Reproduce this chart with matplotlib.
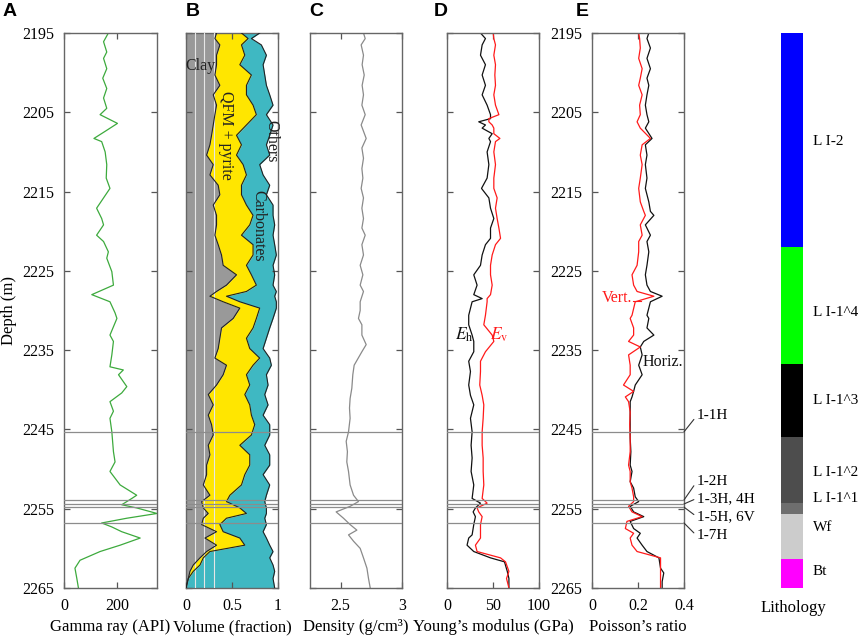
import matplotlib
matplotlib.use('Agg')
import matplotlib.pyplot as plt

plt.rcParams['font.family'] = ['Liberation Serif', 'DejaVu Serif']
plt.rcParams['mathtext.fontset'] = 'stix'

# ---------------- data ----------------
depth_ticks = [2195, 2205, 2215, 2225, 2235, 2245, 2255, 2265]

gr_depth = [2195.0, 2196.1, 2197.4, 2198.2, 2199.5, 2200.7, 2202.0, 2203.2, 2204.5, 2205.3,
            2206.4, 2207.4, 2208.3, 2208.7, 2210.0, 2211.6, 2213.3, 2214.6, 2215.8, 2217.1,
            2218.4, 2219.2, 2220.5, 2221.3, 2222.6, 2223.4, 2225.1, 2226.8, 2228.0, 2228.9,
            2230.3, 2231.0, 2233.1, 2233.9, 2235.6, 2237.1, 2237.5, 2238.1, 2239.6, 2240.4,
            2241.5, 2242.7, 2243.6, 2245.3, 2247.8, 2249.1, 2250.3, 2252.0, 2253.3, 2253.7,
            2254.5, 2254.9, 2255.6, 2256.2, 2256.8, 2257.3, 2257.9, 2258.7, 2259.6, 2260.4,
            2261.5, 2262.5, 2263.8, 2265.0]
gamma_ray = [166, 148, 160, 148, 160, 145, 160, 148, 160, 135,
             200, 154, 112, 141, 154, 160, 158, 172, 148, 122,
             141, 148, 122, 148, 166, 160, 179, 185, 104, 172,
             191, 198, 172, 185, 179, 172, 222, 204, 235, 216,
             172, 185, 172, 179, 185, 191, 172, 210, 272, 254,
             216, 272, 348, 235, 141, 179, 216, 285, 210, 135,
             60, 41, 48, 54]

min_depth = [2195.0, 2195.7, 2196.5, 2197.8, 2199.0, 2200.3, 2201.6, 2202.8, 2204.1, 2205.3,
             2206.6, 2207.9, 2209.1, 2210.4, 2211.6, 2212.9, 2214.2, 2215.4, 2216.7, 2218.0,
             2219.2, 2220.5, 2221.7, 2223.0, 2224.3, 2225.5, 2226.8, 2227.6, 2228.2, 2228.9,
             2229.7, 2231.0, 2232.2, 2233.5, 2234.8, 2236.0, 2236.9, 2238.1, 2239.4, 2240.6,
             2241.9, 2243.2, 2244.4, 2245.7, 2247.0, 2248.2, 2249.5, 2250.7, 2252.0, 2253.3,
             2254.1, 2254.9, 2255.6, 2256.2, 2257.0, 2257.9, 2258.7, 2259.6, 2260.4, 2261.2,
             2262.1, 2262.9, 2263.8, 2265.0]
clay_cum = [0.332, 0.314, 0.368, 0.332, 0.332, 0.314, 0.368, 0.296, 0.332, 0.314,
            0.296, 0.278, 0.260, 0.224, 0.296, 0.260, 0.350, 0.368, 0.296, 0.332,
            0.332, 0.314, 0.350, 0.386, 0.404, 0.549, 0.440, 0.332, 0.260, 0.404,
            0.585, 0.513, 0.386, 0.368, 0.350, 0.314, 0.440, 0.404, 0.332, 0.242,
            0.296, 0.242, 0.278, 0.296, 0.242, 0.260, 0.224, 0.224, 0.188, 0.260,
            0.170, 0.188, 0.242, 0.188, 0.170, 0.332, 0.206, 0.332, 0.224, 0.152,
            0.079, 0.043, 0.025, 0.0]
qfm_cum = [0.603, 0.675, 0.603, 0.639, 0.585, 0.711, 0.657, 0.657, 0.729, 0.765,
           0.657, 0.549, 0.603, 0.549, 0.621, 0.657, 0.603, 0.603, 0.657, 0.729,
           0.693, 0.603, 0.729, 0.729, 0.657, 0.711, 0.765, 0.657, 0.440, 0.585,
           0.801, 0.765, 0.729, 0.657, 0.693, 0.801, 0.729, 0.657, 0.693, 0.639,
           0.693, 0.711, 0.747, 0.711, 0.585, 0.693, 0.693, 0.639, 0.603, 0.477,
           0.440, 0.585, 0.657, 0.440, 0.368, 0.404, 0.585, 0.639, 0.260, 0.188,
           0.152, 0.079, 0.025, 0.0]
carb_cum = [0.801, 0.711, 0.819, 0.874, 0.838, 0.856, 0.874, 0.910, 0.946, 0.874,
            0.946, 0.910, 0.874, 0.910, 0.801, 0.838, 0.910, 0.874, 0.946, 0.946,
            0.964, 0.946, 0.964, 0.982, 0.946, 0.964, 0.946, 0.982, 0.964, 0.982,
            0.982, 0.946, 0.910, 0.874, 0.838, 0.910, 0.928, 0.874, 0.892, 0.856,
            0.892, 0.838, 0.910, 0.910, 0.856, 0.910, 0.910, 0.838, 0.910, 0.874,
            0.856, 0.874, 0.874, 0.856, 0.874, 0.838, 0.874, 0.910, 0.946, 0.910,
            0.946, 0.964, 0.946, 0.964]

den_depth = [2195.0, 2195.7, 2196.5, 2197.8, 2199.0, 2200.3, 2201.6, 2202.8, 2204.1, 2205.3,
             2206.6, 2208.3, 2209.5, 2210.8, 2212.1, 2213.3, 2214.6, 2215.8, 2217.1, 2218.4,
             2219.6, 2220.5, 2221.7, 2223.0, 2224.3, 2225.5, 2226.8, 2227.6, 2228.9, 2230.0,
             2231.0, 2231.8, 2233.1, 2234.3, 2235.2, 2236.9, 2238.1, 2239.8, 2241.1, 2242.3,
             2243.6, 2245.3, 2246.5, 2247.8, 2249.1, 2250.3, 2252.0, 2253.3, 2254.1, 2254.7,
             2255.4, 2256.2, 2257.0, 2257.7, 2258.3, 2259.1, 2260.0, 2261.2, 2262.5, 2263.8,
             2265.0]
density = [2.686, 2.700, 2.667, 2.686, 2.675, 2.692, 2.675, 2.686, 2.673, 2.700,
           2.667, 2.708, 2.673, 2.686, 2.673, 2.681, 2.667, 2.686, 2.673, 2.686,
           2.673, 2.700, 2.673, 2.686, 2.659, 2.681, 2.659, 2.686, 2.659, 2.659,
           2.645, 2.673, 2.673, 2.708, 2.673, 2.610, 2.599, 2.591, 2.577, 2.572,
           2.577, 2.564, 2.545, 2.555, 2.550, 2.564, 2.577, 2.605, 2.645, 2.577,
           2.463, 2.523, 2.577, 2.632, 2.564, 2.605, 2.659, 2.686, 2.714, 2.727,
           2.741]

ym_depth = [2195.0, 2195.7, 2196.5, 2197.8, 2199.0, 2200.3, 2201.6, 2202.8, 2204.1, 2205.3,
            2205.8, 2206.2, 2206.6, 2207.0, 2207.7, 2208.3, 2208.7, 2210.0, 2211.6, 2213.3,
            2214.6, 2215.8, 2217.1, 2218.4, 2219.6, 2220.9, 2221.7, 2223.0, 2224.3, 2225.5,
            2226.8, 2228.0, 2228.5, 2228.9, 2230.6, 2231.8, 2233.1, 2233.9, 2235.2, 2236.4,
            2237.7, 2239.4, 2240.7, 2241.9, 2243.6, 2245.3, 2247.0, 2248.6, 2250.3, 2252.0,
            2253.7, 2254.3, 2254.9, 2255.4, 2256.0, 2257.0, 2258.3, 2258.7, 2259.6, 2260.4,
            2261.2, 2261.7, 2262.9, 2263.8, 2265.0]
young_h = [36.4, 41.8, 38.2, 36.4, 41.8, 38.2, 41.8, 38.2, 43.6, 47.3,
           47.3, 34.5, 41.8, 38.2, 49.1, 45.5, 47.3, 43.6, 45.5, 43.6,
           37.5, 45.5, 47.3, 50.9, 47.3, 47.3, 41.8, 38.2, 36.4, 29.1,
           32.7, 29.1, 38.2, 27.3, 23.6, 23.6, 27.3, 29.1, 29.1, 23.6,
           25.5, 23.6, 25.5, 29.1, 25.5, 27.3, 26.2, 27.3, 26.2, 29.1,
           27.3, 36.4, 30.9, 28.4, 30.9, 29.1, 27.3, 23.6, 21.8, 29.1,
           47.3, 62.5, 65.5, 67.3, 67.3]
young_v = [50.2, 50.9, 52.7, 50.9, 52.7, 52.0, 52.7, 50.9, 52.7, 56.4,
           45.5, 45.5, 49.1, 50.9, 50.9, 57.5, 52.7, 50.9, 52.7, 50.9,
           50.9, 54.5, 52.7, 54.5, 56.4, 58.2, 52.7, 49.1, 47.3, 47.3,
           49.1, 47.3, 43.6, 43.6, 41.8, 40.0, 49.1, 50.9, 41.8, 36.4,
           36.4, 35.6, 38.2, 40.0, 39.3, 38.2, 38.2, 39.3, 39.3, 40.0,
           38.2, 43.6, 32.7, 34.5, 38.2, 36.4, 36.4, 36.4, 30.9, 32.7,
           58.2, 63.6, 67.3, 64.7, 67.3]

pr_depth = [2195.0, 2195.7, 2196.9, 2198.2, 2199.5, 2200.7, 2201.6, 2202.8, 2204.1, 2205.3,
            2206.2, 2207.0, 2208.3, 2209.1, 2210.4, 2211.6, 2213.3, 2214.6, 2216.3, 2217.5,
            2218.0, 2219.2, 2220.5, 2221.3, 2222.6, 2224.3, 2225.5, 2226.8, 2227.6, 2228.2,
            2228.9, 2230.6, 2231.0, 2232.2, 2233.1, 2233.9, 2234.6, 2235.6, 2236.9, 2238.1,
            2239.4, 2240.2, 2240.9, 2241.5, 2242.8, 2244.4, 2246.1, 2247.8, 2249.5, 2250.3,
            2251.6, 2252.4, 2253.5, 2254.1, 2254.7, 2255.4, 2256.0, 2256.6, 2257.5, 2258.1,
            2258.7, 2259.6, 2260.4, 2261.2, 2262.5, 2263.1, 2264.2, 2265.0]
poisson_h = [0.247, 0.239, 0.254, 0.239, 0.254, 0.239, 0.247, 0.239, 0.232, 0.239,
             0.247, 0.232, 0.261, 0.232, 0.239, 0.232, 0.239, 0.232, 0.247, 0.254,
             0.269, 0.232, 0.254, 0.239, 0.247, 0.239, 0.232, 0.239, 0.254, 0.305,
             0.254, 0.239, 0.247, 0.239, 0.269, 0.225, 0.210, 0.218, 0.203, 0.218,
             0.188, 0.181, 0.174, 0.166, 0.166, 0.166, 0.166, 0.169, 0.166, 0.174,
             0.166, 0.181, 0.188, 0.203, 0.166, 0.181, 0.225, 0.166, 0.181, 0.210,
             0.196, 0.218, 0.239, 0.291, 0.298, 0.312, 0.305, 0.305]
poisson_v = [0.203, 0.207, 0.210, 0.203, 0.218, 0.210, 0.203, 0.218, 0.207, 0.210,
             0.196, 0.210, 0.254, 0.218, 0.210, 0.218, 0.210, 0.203, 0.210, 0.225,
             0.232, 0.210, 0.218, 0.203, 0.203, 0.196, 0.174, 0.181, 0.196, 0.269,
             0.188, 0.174, 0.166, 0.181, 0.181, 0.159, 0.210, 0.159, 0.166, 0.166,
             0.137, 0.181, 0.145, 0.159, 0.166, 0.164, 0.166, 0.166, 0.159, 0.166,
             0.166, 0.174, 0.181, 0.181, 0.159, 0.174, 0.218, 0.152, 0.145, 0.181,
             0.166, 0.174, 0.196, 0.298, 0.298, 0.298, 0.298, 0.298]

well_depths = [2245.3, 2253.9, 2254.4, 2254.8, 2256.8]
well_labels = ['1-1H', '1-2H', '1-3H, 4H', '1-5H, 6V', '1-7H']
well_label_depths = [2243.3, 2251.6, 2253.7, 2256.0, 2258.4]

litho_tops = [2195.0, 2222.0, 2236.8, 2245.9, 2254.3, 2255.7, 2261.4]
litho_bottoms = [2222.0, 2236.8, 2245.9, 2254.3, 2255.7, 2261.4, 2265.0]
litho_names = ['L I-2', 'L I-1^4', 'L I-1^3', 'L I-1^2', 'L I-1^1', 'Wf', 'Bt']
litho_colors = ['#0000ff', '#00ff00', '#000000', '#4d4d4d', '#6e6e6e', '#cccccc', '#ff00ff']
litho_label_depths = [2208.7, 2230.2, 2241.4, 2250.4, 2253.7, 2257.4, 2262.9]

# ---------------- layout ----------------
W, H = 858, 636
fig = plt.figure(figsize=(W / 100, H / 100), dpi=100)
Y0, Y1 = 33, 588


def rect(x0, x1):
    return [x0 / W, 1 - Y1 / H, (x1 - x0) / W, (Y1 - Y0) / H]


SPINE = '#666666'
LINEC = '#8c8c8c'


def style(ax, xlim, xticks, xticklabels, xlabel, ylabels=False):
    ax.set_ylim(2265, 2195)
    ax.set_xlim(*xlim)
    ax.set_yticks(depth_ticks)
    ax.set_xticks(xticks)
    ax.set_xticklabels(xticklabels)
    ax.tick_params(direction='in', top=True, right=True, length=4, width=0.9,
                   color='#555555', labelsize=11.5, pad=7)
    ax.tick_params(axis='y', labelleft=ylabels, pad=7)
    for s in ax.spines.values():
        s.set_color(SPINE)
        s.set_linewidth(1.0)
    ax.set_xlabel(xlabel, fontsize=12, labelpad=4)
    for d in well_depths:
        ax.axhline(d, color=LINEC, lw=0.9, zorder=5)


# A: gamma ray
axA = fig.add_axes(rect(64, 157))
axA.plot(gamma_ray, gr_depth, color='#3daa3d', lw=0.9)
style(axA, (0, 348), [0, 200], ['0', '200'], 'Gamma ray (API)', ylabels=True)
axA.set_ylabel('Depth (m)', fontsize=12, labelpad=4)

# B: mineral volume
axB = fig.add_axes(rect(186, 278))
axB.fill_betweenx(min_depth, 0, clay_cum, color='#999999', lw=0)
axB.fill_betweenx(min_depth, clay_cum, qfm_cum, color='#ffe600', lw=0)
axB.fill_betweenx(min_depth, qfm_cum, carb_cum, color='#3fb8c2', lw=0)
for v in (0.1, 0.2, 0.3):
    axB.axvline(v, color='#e6e6e6', lw=0.8, zorder=3)
for c in (clay_cum, qfm_cum, carb_cum):
    axB.plot(c, min_depth, color='#222222', lw=0.8, zorder=4)
style(axB, (0, 1), [0, 0.5, 1], ['0', '0.5', '1'], 'Volume (fraction)')
axB.text(0.16, 2199.2, 'Clay', fontsize=11.5, ha='center', va='center', color='#222222', zorder=6)
axB.text(0.43, 2207.9, 'QFM + pyrite', fontsize=11.5, rotation=-90, ha='center', va='center',
         color='#222222', zorder=6)
axB.text(0.925, 2208.6, 'Others', fontsize=11.5, rotation=-90, ha='center', va='center',
         color='#222222', zorder=6)
axB.text(0.785, 2219.3, 'Carbonates', fontsize=11.5, rotation=-90, ha='center', va='center',
         color='#222222', zorder=6)

# C: density
axC = fig.add_axes(rect(310, 402))
axC.plot(density, den_depth, color='#8a8a8a', lw=0.9)
style(axC, (2.25, 3.0), [2.5, 3.0], ['2.5', '3'], 'Density (g/cm\u00b3)')

# D: Young's modulus
axD = fig.add_axes(rect(447, 539))
axD.plot(young_h, ym_depth, color='#111111', lw=0.9)
axD.plot(young_v, ym_depth, color='#ff1a1a', lw=0.9)
style(axD, (0, 100), [0, 50, 100], ['0', '50', '100'], 'Young\u2019s modulus (GPa)')
axD.text(19, 2233.1, r'$E_\mathrm{h}$', fontsize=12.5, ha='center', va='center', color='#111111')
axD.text(57, 2233.1, r'$E_\mathrm{v}$', fontsize=12.5, ha='center', va='center', color='#ff1a1a')

# E: Poisson's ratio
axE = fig.add_axes(rect(592, 684))
axE.plot(poisson_h, pr_depth, color='#111111', lw=0.9)
axE.plot(poisson_v, pr_depth, color='#ff1a1a', lw=0.9)
style(axE, (0, 0.4), [0, 0.2, 0.4], ['0', '0.2', '0.4'], 'Poisson\u2019s ratio', ylabels=True)
axE.text(0.176, 2228.4, 'Vert.', fontsize=11.5, ha='right', va='center', color='#ff1a1a')
axE.plot([0.178, 0.215], [2228.8, 2228.8], color='#ff1a1a', lw=0.8)
axE.text(0.222, 2236.5, 'Horiz.', fontsize=11.5, ha='left', va='center', color='#111111')

for d, lab, ld in zip(well_depths, well_labels, well_label_depths):
    axE.annotate(lab, xy=(0.4, d), xytext=(0.455, ld), textcoords='data',
                 fontsize=11, ha='left', va='center', annotation_clip=False,
                 arrowprops=dict(arrowstyle='-', color='#333333', lw=0.8,
                                 shrinkA=0, shrinkB=0, relpos=(0, 0.5)))

# Lithology column
axL = fig.add_axes(rect(781, 803))
for top, bot, col in zip(litho_tops, litho_bottoms, litho_colors):
    axL.bar(0.5, bot - top, bottom=top, width=1.0, color=col, lw=0)
axL.set_ylim(2265, 2195)
axL.set_xlim(0, 1)
axL.axis('off')
for name, ld in zip(litho_names, litho_label_depths):
    axL.text(1.45, ld, name, fontsize=11, ha='left', va='center', clip_on=False)
fig.text(793 / W, 1 - 608 / H, 'Lithology', fontsize=12, ha='center', va='center')

# panel letters
for lab, xpx in zip('ABCDE', [10, 193, 316, 441, 582]):
    fig.text(xpx / W, 1 - 12 / H, lab, fontsize=14, fontweight='bold',
             family='Liberation Sans', ha='center', va='center')

fig.savefig('out.png', dpi=100)
